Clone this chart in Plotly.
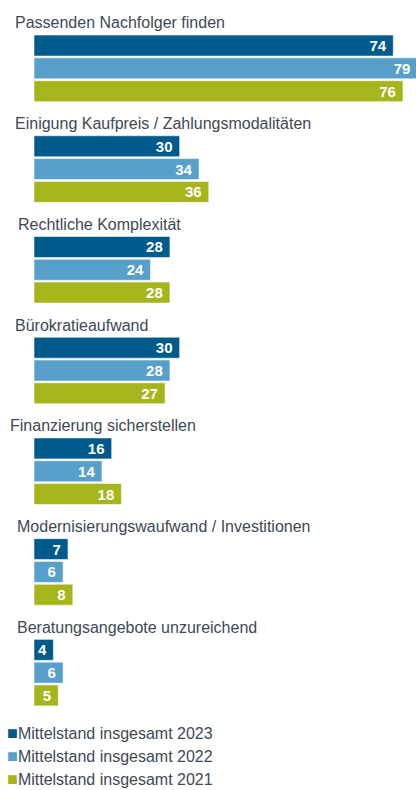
import plotly.graph_objects as go

categories = [
    "Passenden Nachfolger finden",
    "Einigung Kaufpreis / Zahlungsmodalitäten",
    "Rechtliche Komplexität",
    "Bürokratieaufwand",
    "Finanzierung sicherstellen",
    "Modernisierungswaufwand / Investitionen",
    "Beratungsangebote unzureichend",
]
series_names = [
    "Mittelstand insgesamt 2023",
    "Mittelstand insgesamt 2022",
    "Mittelstand insgesamt 2021",
]
values_2023 = [74, 30, 28, 30, 16, 7, 4]
values_2022 = [79, 34, 24, 28, 14, 6, 6]
values_2021 = [76, 36, 28, 27, 18, 8, 5]

colors = ["#005A8C", "#56A0C9", "#A6B51C"]
label_xshift = [-21, -21, -18, -21, -26, -19, -19]
text_color = "#3d4955"
font_family = "Liberation Sans, Arial, sans-serif"

fig = go.Figure()
for name, vals, col in zip(series_names, [values_2023, values_2022, values_2021], colors):
    fig.add_trace(go.Bar(
        y=categories, x=vals, name=name, orientation="h",
        marker=dict(color=col, line=dict(color="rgba(255,255,255,0.55)", width=1)),
        texttemplate="%{x}\u00a0", textposition="inside", insidetextanchor="end",
        textangle=0, constraintext="none",
        textfont=dict(color="white", size=15, family=font_family, weight="bold"),
        showlegend=False, hoverinfo="skip",
    ))

for cat, xs in zip(categories, label_xshift):
    fig.add_annotation(
        x=0, y=cat, xref="x", yref="y", text=cat, showarrow=False,
        xanchor="left", yanchor="middle", xshift=xs, yshift=45.5,
        font=dict(size=16, color=text_color, family=font_family),
    )

legend_shift = [-10, -33, -56]
for name, col, ys in zip(series_names, colors, legend_shift):
    fig.add_annotation(
        x=0, y=0, xref="paper", yref="paper",
        text=f'<span style="color:{col};font-size:18px">■</span>{name}',
        showarrow=False, xanchor="left", yanchor="middle",
        xshift=-29, yshift=ys,
        font=dict(size=16, color=text_color, family=font_family),
    )

fig.update_layout(
    width=416, height=790,
    margin=dict(l=34, r=0, t=18, b=67),
    barmode="group", bargap=0.321, bargroupgap=0.08,
    plot_bgcolor="white", paper_bgcolor="white",
    xaxis=dict(range=[0, 78.68], visible=False, fixedrange=True),
    yaxis=dict(type="category", categoryarray=categories, range=[6.5, -0.5],
               visible=False, fixedrange=True),
    font=dict(family=font_family),
)

fig.write_html(
    "out.html",
    config={"displayModeBar": False},
    post_script="document.body.style.margin='0';document.body.style.overflow='hidden';",
)
